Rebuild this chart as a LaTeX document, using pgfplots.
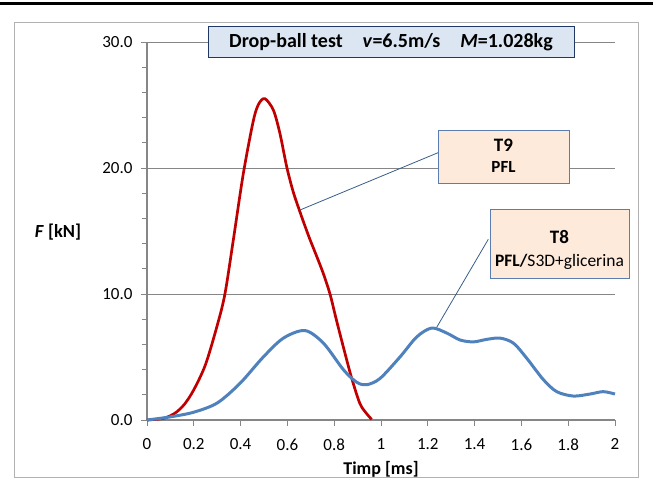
\documentclass[border=0pt]{standalone}
\usepackage{pgfplots}
\pgfplotsset{compat=1.18}
\usepackage{fontspec}
\setmainfont{Carlito}
\definecolor{axgray}{HTML}{868686}
\definecolor{redc}{HTML}{C00000}
\definecolor{bluec}{HTML}{4F81BD}
\definecolor{titlefill}{HTML}{DCE6F2}
\definecolor{titledraw}{HTML}{1F3864}
\definecolor{boxfill}{HTML}{FDEADA}
\definecolor{boxdraw}{HTML}{5B7DB1}
\definecolor{callout}{HTML}{385D8A}
\begin{document}
\begin{tikzpicture}[x=1pt,y=1pt]
\useasboundingbox (-147,-71) rectangle (506,420);
\draw[line width=3pt,black] (-147,416) -- (506,416);
\draw[line width=0.9pt,color=black!30] (-133,-57) rectangle (491,398);
\begin{axis}[
  at={(0,0)}, anchor=origin,
  scale only axis, width=468pt, height=378pt,
  xmin=0, xmax=2, ymin=0, ymax=30,
  axis x line=bottom, axis y line=left,
  axis line style={-, color=axgray, line width=1.3pt},
  xtick={0,0.2,...,2.01},
  xticklabels={0,0.2,0.4,0.6,0.8,1,1.2,1.4,1.6,1.8,2},
  ytick={0,10,20,30},
  yticklabels={0.0,10.0,20.0,30.0},
  minor y tick num=4,
  tick align=outside,
  major tick length=6pt, minor tick length=5pt,
  tick style={color=axgray, line width=0.8pt},
  ymajorgrids,
  major grid style={color=axgray, line width=1pt},
  /pgf/number format/assume math mode=true,
  tick label style={font=\fontsize{17}{19}\selectfont, color=black},
  xticklabel style={yshift=-9pt},
  yticklabel style={xshift=-5pt},
  clip=false,
]
\addplot[color=redc, line width=2.7pt, smooth, tension=0.5] coordinates {
(0,0) (0.07,0.13) (0.12,0.55) (0.16,1.25) (0.2,2.4) (0.25,4.4)
(0.3,7.5) (0.333,10.0) (0.369,14.3) (0.412,19.6) (0.455,23.8)
(0.478,25.1) (0.504,25.5) (0.54,24.6) (0.568,22.75) (0.597,20.1)
(0.625,18.1) (0.654,16.5) (0.675,15.4) (0.697,14.3) (0.725,13.0)
(0.754,11.6) (0.782,10.0) (0.81,7.9) (0.846,5.3) (0.875,3.3)
(0.91,1.3) (0.939,0.5) (0.96,0.05)
};
\addplot[color=bluec, line width=3pt, smooth, tension=0.5] coordinates {
(0,0) (0.1,0.25) (0.2,0.62) (0.3,1.35) (0.397,2.9) (0.497,5.0)
(0.583,6.5) (0.675,7.1) (0.754,6.1) (0.839,4.0) (0.896,3.0) (0.939,2.8)
(0.996,3.3) (1.081,5.0) (1.153,6.6) (1.217,7.3) (1.281,6.9) (1.338,6.35)
(1.395,6.2) (1.452,6.4) (1.509,6.5) (1.566,6.1) (1.623,4.9) (1.694,3.2)
(1.751,2.25) (1.822,1.9) (1.893,2.06) (1.95,2.25) (2.0,2.06)
};
\end{axis}
% callout lines
\draw[color=callout, line width=0.8pt] (153,210) -- (292,267.7);
\draw[color=callout, line width=0.8pt] (289.7,92.7) -- (341.3,180.7);
% title
\node[draw=titledraw, fill=titlefill, line width=1pt, minimum width=366pt, minimum height=31pt, inner sep=0pt]
  at (244,377.5) {\fontsize{20}{22}\selectfont\bfseries Drop-ball test\quad \textit{v}=6.5m/s\quad \textit{M}=1.028kg};
% T9 box
\node[draw=boxdraw, fill=boxfill, line width=1pt, minimum width=131pt, minimum height=53pt, inner sep=0pt]
  at (356.5,263.5) {};
\node at (356.5,275) {\fontsize{19}{21}\selectfont\bfseries T9};
\node at (356.5,253) {\fontsize{17}{19}\selectfont\bfseries PFL};
% T8 box
\node[draw=boxdraw, fill=boxfill, line width=1pt, minimum width=139pt, minimum height=69pt, inner sep=0pt]
  at (412.5,176.5) {};
\node at (412.5,183) {\fontsize{19}{21}\selectfont\bfseries T8};
\node at (412.5,158) {\fontsize{17.5}{19}\selectfont\textbf{PFL/}S3D+glicerina};
% axis labels
\node at (-89,188) {\fontsize{18.5}{20}\selectfont\bfseries\textit{F} [kN]};
\node at (234,-49) {\fontsize{18}{20}\selectfont\bfseries Timp [ms]};
\end{tikzpicture}
\end{document}
